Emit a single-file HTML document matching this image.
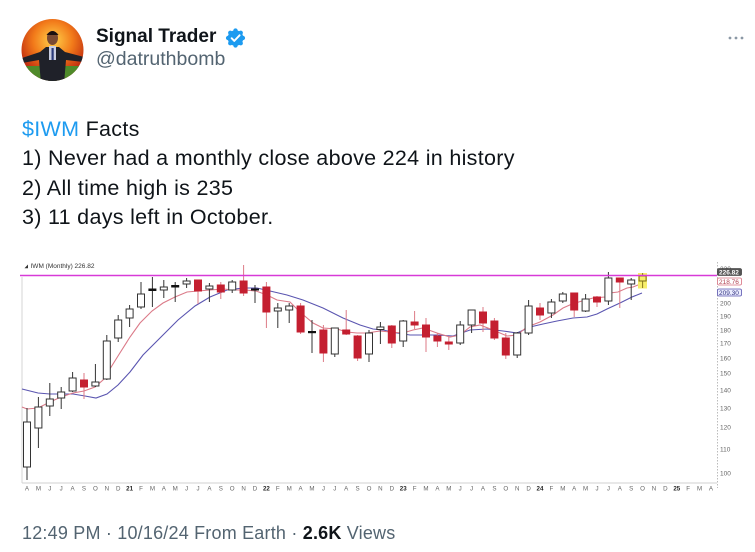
<!DOCTYPE html>
<html><head><meta charset="utf-8"><style>
html,body{margin:0;padding:0;background:#fff;}
body{width:755px;height:552px;position:relative;overflow:hidden;font-family:"Liberation Sans",Arial,sans-serif;}
.abs{position:absolute;white-space:nowrap;}
#name{left:96px;top:27px;font-size:19px;line-height:19px;font-weight:bold;color:#0f1419;}
#handle{left:96px;top:50px;font-size:19.5px;line-height:19.5px;color:#536471;}
#body{left:22px;top:115px;font-size:21.5px;line-height:29.4px;color:#0f1419;letter-spacing:0.3px;}
#body .c{color:#1d9bf0;}
#foot{left:22px;top:524px;font-size:18px;line-height:18px;color:#536471;letter-spacing:0.2px;}
#foot b{color:#0f1419;}
svg{position:absolute;left:0;top:0;}
</style></head><body>

<svg width="755" height="552" viewBox="0 0 755 552" xmlns="http://www.w3.org/2000/svg">
  <defs>
    <radialGradient id="fire" cx="50%" cy="35%" r="60%">
      <stop offset="0" stop-color="#ffd24a"/>
      <stop offset="0.5" stop-color="#f27a1a"/>
      <stop offset="1" stop-color="#b8200e"/>
    </radialGradient>
    <clipPath id="av"><circle cx="52.5" cy="50" r="31"/></clipPath>
  </defs>
  <g clip-path="url(#av)">
    <rect x="20" y="18" width="66" height="64" fill="url(#fire)"/>
    <rect x="20" y="66" width="66" height="18" fill="#4f8a2a"/>
    <path d="M22 58 L40 52 L46 47 L59 47 L65 52 L84 57 L84 62 L66 60 L64 84 L41 84 L39 60 L22 63 Z" fill="#1f2129"/>
    <rect x="49" y="46" width="7" height="14" fill="#c9cde0"/>
    <rect x="51.5" y="48" width="2.2" height="12" fill="#2a3a7a"/>
    <ellipse cx="52.5" cy="38" rx="5.5" ry="7" fill="#7a4a32"/>
    <path d="M46.5 35 Q52.5 27 58.5 35 Z" fill="#1a1010"/>
  </g>
  <circle cx="235.5" cy="38" r="7.8" fill="#1d9bf0"/>
  <circle cx="235.5" cy="30.6" r="2.2" fill="#1d9bf0"/><circle cx="235.5" cy="45.4" r="2.2" fill="#1d9bf0"/>
  <circle cx="228.1" cy="38" r="2.2" fill="#1d9bf0"/><circle cx="242.9" cy="38" r="2.2" fill="#1d9bf0"/>
  <circle cx="230.3" cy="32.8" r="2.2" fill="#1d9bf0"/><circle cx="240.7" cy="32.8" r="2.2" fill="#1d9bf0"/>
  <circle cx="230.3" cy="43.2" r="2.2" fill="#1d9bf0"/><circle cx="240.7" cy="43.2" r="2.2" fill="#1d9bf0"/>
  <path d="M231.6 38.2 L234.3 40.9 L239.6 35.3" fill="none" stroke="#fff" stroke-width="1.9" stroke-linecap="round" stroke-linejoin="round"/>
  <circle cx="730" cy="38" r="1.4" fill="#8b98a5"/><circle cx="736" cy="38" r="1.4" fill="#8b98a5"/><circle cx="742" cy="38" r="1.4" fill="#8b98a5"/>

  <text x="30.5" y="268" font-size="6.5" fill="#333" font-family="Liberation Sans, sans-serif">IWM (Monthly) 226.82</text>
  <path d="M24.5 268.3 L28 264.5 L28 268.3 Z" fill="#333"/>
  <line x1="22" y1="277" x2="22" y2="483" stroke="#d4d4d4" stroke-width="1"/>
  <line x1="22" y1="483" x2="717" y2="483" stroke="#d0d0d0" stroke-width="1"/>
  <line x1="717.5" y1="262" x2="717.5" y2="488" stroke="#bbb" stroke-width="1" stroke-dasharray="1.5,1.5"/>

  <g font-size="6.5" fill="#666" font-family="Liberation Sans, sans-serif">
    <text x="720" y="271">230</text>
    <text x="720" y="305.3">200</text>
    <text x="720" y="318.3">190</text>
    <text x="720" y="332.3">180</text>
    <text x="720" y="345.3">170</text>
    <text x="720" y="360.3">160</text>
    <text x="720" y="375.3">150</text>
    <text x="720" y="392.3">140</text>
    <text x="720" y="410.3">130</text>
    <text x="720" y="429.3">120</text>
    <text x="720" y="451.3">110</text>
    <text x="720" y="475.3">100</text>
  </g>

  <g font-size="6.2" fill="#666" text-anchor="middle" font-family="Liberation Sans, sans-serif">
    <text x="27.0" y="490.5">A</text><text x="38.4" y="490.5">M</text><text x="49.8" y="490.5">J</text><text x="61.2" y="490.5">J</text><text x="72.6" y="490.5">A</text><text x="84.0" y="490.5">S</text><text x="95.4" y="490.5">O</text><text x="106.8" y="490.5">N</text><text x="118.2" y="490.5">D</text>
    <text x="129.6" y="490.5" font-weight="bold" fill="#222">21</text>
    <text x="141.0" y="490.5">F</text><text x="152.4" y="490.5">M</text><text x="163.8" y="490.5">A</text><text x="175.2" y="490.5">M</text><text x="186.6" y="490.5">J</text><text x="198.0" y="490.5">J</text><text x="209.4" y="490.5">A</text><text x="220.8" y="490.5">S</text><text x="232.2" y="490.5">O</text><text x="243.6" y="490.5">N</text><text x="255.0" y="490.5">D</text>
    <text x="266.4" y="490.5" font-weight="bold" fill="#222">22</text>
    <text x="277.8" y="490.5">F</text><text x="289.2" y="490.5">M</text><text x="300.6" y="490.5">A</text><text x="312.0" y="490.5">M</text><text x="323.4" y="490.5">J</text><text x="334.8" y="490.5">J</text><text x="346.2" y="490.5">A</text><text x="357.6" y="490.5">S</text><text x="369.0" y="490.5">O</text><text x="380.4" y="490.5">N</text><text x="391.8" y="490.5">D</text>
    <text x="403.2" y="490.5" font-weight="bold" fill="#222">23</text>
    <text x="414.6" y="490.5">F</text><text x="426.0" y="490.5">M</text><text x="437.4" y="490.5">A</text><text x="448.8" y="490.5">M</text><text x="460.2" y="490.5">J</text><text x="471.6" y="490.5">J</text><text x="483.0" y="490.5">A</text><text x="494.4" y="490.5">S</text><text x="505.8" y="490.5">O</text><text x="517.2" y="490.5">N</text><text x="528.6" y="490.5">D</text>
    <text x="540.0" y="490.5" font-weight="bold" fill="#222">24</text>
    <text x="551.4" y="490.5">F</text><text x="562.8" y="490.5">M</text><text x="574.2" y="490.5">A</text><text x="585.6" y="490.5">M</text><text x="597.0" y="490.5">J</text><text x="608.4" y="490.5">J</text><text x="619.8" y="490.5">A</text><text x="631.2" y="490.5">S</text><text x="642.6" y="490.5">O</text><text x="654.0" y="490.5">N</text><text x="665.4" y="490.5">D</text>
    <text x="676.8" y="490.5" font-weight="bold" fill="#222">25</text>
    <text x="688.2" y="490.5">F</text><text x="699.6" y="490.5">M</text><text x="711.0" y="490.5">A</text>
  </g>

  <polyline fill="none" stroke="#5a55b0" stroke-width="1.1" points="22,389 38,393 50,394 73,394 85,396 96,398 107,394 118,385 130,372 143,355 160,338 178,320 195,306 210,297 227,290 243,288 257,288 270,291 287,295 303,300 323,308 343,318 360,325 373,329 383,330 397,333 410,335 437,335 453,336 470,330 487,329 503,331 517,333 530,327 543,324 557,321 573,318 587,317 597,314 607,309 620,303 632,297 642,293"/>
  <polyline fill="none" stroke="#db7a88" stroke-width="1.1" points="22,407 27,409 38,408 50,402 61,397 73,393 84,391 95,387 103,380 108,372 118,356 130,337 140,323 152,311 163,303 175,297 187,292 198,291 210,290 223,289 235,290 245,290 256,291 267,295 277,300 290,302 300,312 313,323 323,328 337,329 347,332 357,333 367,333 380,331 390,332 403,333 413,330 423,328 437,333 450,337 460,335 470,327 480,325 493,330 507,336 517,335 527,327 540,322 553,315 563,308 572,304 582,301 593,298 605,297 610,293 618,292 627,288 633,287 643,283"/>

  <g stroke-width="1">
    <g stroke="#333">
      <line x1="27" y1="408" x2="27" y2="480"/>
      <line x1="38.4" y1="397" x2="38.4" y2="448"/>
      <line x1="49.8" y1="383" x2="49.8" y2="416"/>
      <line x1="61.2" y1="387" x2="61.2" y2="409"/>
      <line x1="72.6" y1="372" x2="72.6" y2="392"/>
      <line x1="95.4" y1="364" x2="95.4" y2="387"/>
      <line x1="106.8" y1="335" x2="106.8" y2="380"/>
      <line x1="118.2" y1="315" x2="118.2" y2="342"/>
      <line x1="129.6" y1="305" x2="129.6" y2="327"/>
      <line x1="141" y1="282" x2="141" y2="309"/>
      <line x1="152.4" y1="277" x2="152.4" y2="307"/>
      <line x1="163.8" y1="280" x2="163.8" y2="298"/>
      <line x1="175.2" y1="282" x2="175.2" y2="302"/>
      <line x1="186.6" y1="278" x2="186.6" y2="288"/>
      <line x1="209.4" y1="283" x2="209.4" y2="302"/>
      <line x1="232.2" y1="280" x2="232.2" y2="293"/>
      <line x1="255" y1="285" x2="255" y2="303"/>
      <line x1="277.8" y1="303" x2="277.8" y2="328"/>
      <line x1="289.2" y1="303" x2="289.2" y2="323"/>
      <line x1="312" y1="320" x2="312" y2="353"/>
      <line x1="334.8" y1="328" x2="334.8" y2="357"/>
      <line x1="369" y1="330" x2="369" y2="362"/>
      <line x1="380.4" y1="322" x2="380.4" y2="344"/>
      <line x1="403.2" y1="320" x2="403.2" y2="347"/>
      <line x1="460.2" y1="321" x2="460.2" y2="345"/>
      <line x1="471.6" y1="310" x2="471.6" y2="333"/>
      <line x1="517.2" y1="332" x2="517.2" y2="358"/>
      <line x1="528.6" y1="300" x2="528.6" y2="335"/>
      <line x1="551.4" y1="299" x2="551.4" y2="318"/>
      <line x1="562.8" y1="292" x2="562.8" y2="303"/>
      <line x1="585.6" y1="294" x2="585.6" y2="312"/>
      <line x1="608.4" y1="272" x2="608.4" y2="305"/>
      <line x1="631.2" y1="278" x2="631.2" y2="300"/>
    </g>
    <g stroke="#dc7a86">
      <line x1="84" y1="373" x2="84" y2="399"/>
      <line x1="198" y1="280" x2="198" y2="304"/>
      <line x1="220.8" y1="282" x2="220.8" y2="299"/>
      <line x1="243.6" y1="265" x2="243.6" y2="296"/>
      <line x1="266.4" y1="282" x2="266.4" y2="328"/>
      <line x1="300.6" y1="303" x2="300.6" y2="334"/>
      <line x1="323.4" y1="325" x2="323.4" y2="362"/>
      <line x1="346.2" y1="310" x2="346.2" y2="335"/>
      <line x1="357.6" y1="335" x2="357.6" y2="361"/>
      <line x1="391.8" y1="325" x2="391.8" y2="348"/>
      <line x1="414.6" y1="311" x2="414.6" y2="329"/>
      <line x1="426" y1="318" x2="426" y2="352"/>
      <line x1="437.4" y1="333" x2="437.4" y2="347"/>
      <line x1="448.8" y1="336" x2="448.8" y2="350"/>
      <line x1="483" y1="307" x2="483" y2="332"/>
      <line x1="494.4" y1="318" x2="494.4" y2="340"/>
      <line x1="505.8" y1="333" x2="505.8" y2="359"/>
      <line x1="540" y1="303" x2="540" y2="320"/>
      <line x1="574.2" y1="293" x2="574.2" y2="317"/>
      <line x1="597" y1="296" x2="597" y2="307"/>
      <line x1="619.8" y1="278" x2="619.8" y2="308"/>
    </g>
    <g fill="#fff" stroke="#333">
      <rect x="23.5" y="422" width="7" height="45"/>
      <rect x="34.9" y="407" width="7" height="21"/>
      <rect x="46.3" y="399" width="7" height="7"/>
      <rect x="57.7" y="392" width="7" height="6"/>
      <rect x="69.1" y="378" width="7" height="13"/>
      <rect x="91.9" y="382" width="7" height="4"/>
      <rect x="103.3" y="341" width="7" height="38"/>
      <rect x="114.7" y="320" width="7" height="18"/>
      <rect x="126.1" y="309" width="7" height="9"/>
      <rect x="137.5" y="294" width="7" height="13"/>
      <rect x="160.3" y="287" width="7" height="3"/>
      <rect x="183.1" y="281" width="7" height="3"/>
      <rect x="205.9" y="286" width="7" height="3"/>
      <rect x="228.7" y="282" width="7" height="8"/>
      <rect x="274.3" y="308" width="7" height="3"/>
      <rect x="285.7" y="306" width="7" height="4"/>
      <rect x="331.3" y="328" width="7" height="26"/>
      <rect x="365.5" y="333" width="7" height="21"/>
      <rect x="376.9" y="327" width="7" height="2.5"/>
      <rect x="399.7" y="321" width="7" height="20"/>
      <rect x="456.7" y="325" width="7" height="18"/>
      <rect x="468.1" y="310" width="7" height="15"/>
      <rect x="513.7" y="333" width="7" height="22"/>
      <rect x="525.1" y="306" width="7" height="27"/>
      <rect x="547.9" y="302" width="7" height="11"/>
      <rect x="559.3" y="294" width="7" height="7"/>
      <rect x="582.1" y="299" width="7" height="12"/>
      <rect x="604.9" y="278" width="7" height="23"/>
      <rect x="627.7" y="280" width="7" height="4"/>
    </g>
    <g fill="#111" stroke="#111">
      <rect x="148.9" y="289" width="7" height="1.5"/>
      <rect x="171.7" y="285.5" width="7" height="1.5"/>
      <rect x="251.5" y="289" width="7" height="1"/>
      <rect x="308.5" y="331.5" width="7" height="1.2"/>
    </g>
    <g fill="#c41f30" stroke="#c41f30">
      <rect x="80.5" y="380" width="7" height="7"/>
      <rect x="194.5" y="280" width="7" height="11"/>
      <rect x="217.3" y="285" width="7" height="7"/>
      <rect x="240.1" y="281" width="7" height="12"/>
      <rect x="262.9" y="287" width="7" height="25"/>
      <rect x="297.1" y="306" width="7" height="26"/>
      <rect x="319.9" y="330" width="7" height="23"/>
      <rect x="342.7" y="330" width="7" height="4"/>
      <rect x="354.1" y="336" width="7" height="22"/>
      <rect x="388.3" y="326" width="7" height="17"/>
      <rect x="411.1" y="322" width="7" height="3"/>
      <rect x="422.5" y="325" width="7" height="12"/>
      <rect x="433.9" y="336" width="7" height="5"/>
      <rect x="445.3" y="342" width="7" height="2"/>
      <rect x="479.5" y="312" width="7" height="11"/>
      <rect x="490.9" y="321" width="7" height="17"/>
      <rect x="502.3" y="338" width="7" height="17"/>
      <rect x="536.5" y="308" width="7" height="7"/>
      <rect x="570.7" y="293" width="7" height="17"/>
      <rect x="593.5" y="297" width="7" height="5"/>
      <rect x="616.3" y="278" width="7" height="4"/>
    </g>
    <rect x="638" y="273" width="9" height="15.5" fill="#f7ee6a" stroke="none"/>
    <line x1="642.6" y1="273" x2="642.6" y2="288" stroke="#8a7a20"/>
    <rect x="639.1" y="276" width="7" height="5" fill="#f7ee6a" stroke="#7a6a18"/>
  </g>

  <line x1="20" y1="275.5" x2="717" y2="275.5" stroke="#d83ad8" stroke-width="1.6"/>

  <rect x="717.5" y="268.5" width="24" height="7" rx="1.5" fill="#555" stroke="#222" stroke-width="0.6"/>
  <text x="719" y="274.3" font-size="6.5" fill="#fff" font-weight="bold" font-family="Liberation Sans, sans-serif">226.82</text>
  <rect x="717.5" y="278" width="24" height="7" rx="1.5" fill="#fff" stroke="#d87080" stroke-width="0.8"/>
  <text x="719" y="283.8" font-size="6.5" fill="#b04050" font-family="Liberation Sans, sans-serif">218.76</text>
  <rect x="717.5" y="289" width="24" height="7" rx="1.5" fill="#eceeff" stroke="#5a55b0" stroke-width="0.8"/>
  <text x="719" y="294.8" font-size="6.5" fill="#303080" font-family="Liberation Sans, sans-serif">209.30</text>
</svg>

<div class="abs" id="name">Signal Trader</div>
<div class="abs" id="handle">@datruthbomb</div>
<div class="abs" id="body"><span class="c">$IWM</span> Facts<br>1) Never had a monthly close above 224 in history<br>2) All time high is 235<br>3) 11 days left in October.</div>
<div class="abs" id="foot">12:49 PM · 10/16/24 From Earth · <b>2.6K</b> Views</div>

</body></html>
